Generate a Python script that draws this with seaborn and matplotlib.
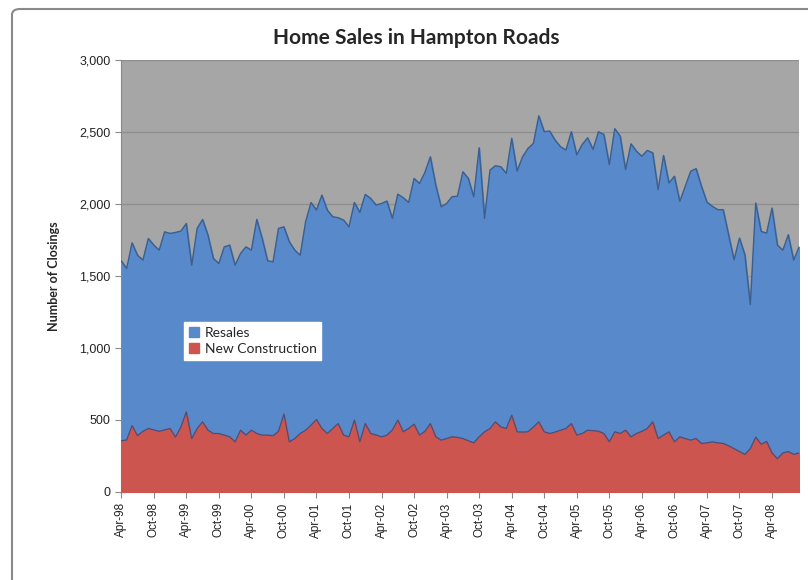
import numpy as np
import pandas as pd
import seaborn as sns
import matplotlib.pyplot as plt
from matplotlib.patches import FancyBboxPatch
from matplotlib.ticker import FuncFormatter

# Monthly closings, Apr-98 .. Sep-08
total_closings = [
    1604, 1551, 1729, 1643, 1609, 1759, 1713, 1678, 1805, 1794, 1801, 1810,
    1863, 1574, 1829, 1891, 1782, 1620, 1586, 1701, 1713, 1574, 1655, 1701,
    1678, 1891, 1759, 1604, 1597, 1829, 1840, 1736, 1678, 1643, 1875, 2009,
    1956, 2060, 1956, 1910, 1903, 1887, 1840, 2009, 1940, 2065, 2037, 1991,
    2002, 2019, 1898, 2067, 2042, 2009, 2176, 2141, 2218, 2326, 2130, 1979,
    2002, 2049, 2053, 2222, 2176, 2049, 2389, 1898, 2234, 2264, 2257, 2211,
    2454, 2227, 2326, 2384, 2419, 2611, 2500, 2505, 2442, 2396, 2373, 2500,
    2340, 2412, 2458, 2377, 2500, 2481, 2272, 2521, 2470, 2237, 2416, 2365,
    2330, 2370, 2354, 2098, 2335, 2144, 2191, 2017, 2121, 2226, 2244, 2121,
    2012, 1982, 1959, 1959, 1785, 1611, 1762, 1646, 1300, 2005, 1808, 1796,
    1970, 1713, 1678, 1785, 1609, 1701,
]
new_construction = [
    355, 360, 460, 390, 420, 440, 430, 420, 430, 440, 380, 450,
    555, 370, 440, 486, 428, 405, 405, 394, 382, 347, 428, 394,
    428, 405, 394, 394, 390, 420, 540, 347, 370, 405, 428, 463,
    502, 440, 405, 440, 474, 394, 382, 498, 347, 474, 405, 395,
    382, 394, 430, 498, 417, 440, 470, 394, 420, 474, 382, 359,
    370, 382, 378, 370, 355, 340, 382, 417, 440, 486, 451, 440,
    532, 417, 415, 417, 450, 486, 417, 405, 415, 428, 440, 474,
    394, 405, 428, 425, 421, 405, 347, 417, 405, 428, 382, 405,
    420, 440, 486, 370, 394, 417, 347, 382, 370, 359, 370, 336,
    340, 347, 340, 336, 320, 300, 280, 260, 300, 380, 330, 350,
    270, 230, 270, 280, 260, 270,
]
years = ['98', '99', '00', '01', '02', '03', '04', '05', '06', '07', '08']
tick_labels = []
for y in years:
    tick_labels.append(f'Apr-{y}')
    if y != '08':
        tick_labels.append(f'Oct-{y}')

df = pd.DataFrame({
    'month': np.arange(len(total_closings)),
    'New Construction': new_construction,
    'Total': total_closings,
})
df['Resales'] = df['Total'] - df['New Construction']

sns.set_style('white')
plt.rcParams['font.family'] = ['Liberation Sans', 'DejaVu Sans']

blue = '#5889CB'
red = '#CD5550'

fig = plt.figure(figsize=(8.08, 5.8), dpi=100)
ax = fig.add_axes([0.150, 0.152, 0.839, 0.745])
ax.set_facecolor('#A6A6A6')

ax.fill_between(df['month'], 0, df['Total'], color=blue, label='Resales', zorder=2)
ax.fill_between(df['month'], 0, df['New Construction'], color=red,
                label='New Construction', zorder=3)
sns.lineplot(data=df, x='month', y='Total', ax=ax, color='#3B5F8E', lw=1.0, zorder=4)
sns.lineplot(data=df, x='month', y='New Construction', ax=ax, color='#4A4F78',
             lw=0.9, zorder=4)

ax.set_xlim(0, len(total_closings) - 1)
ax.set_ylim(0, 3000)
ax.set_yticks(range(0, 3001, 500))
ax.yaxis.set_major_formatter(FuncFormatter(lambda v, p: f'{int(v):,}'))
ax.set_xticks(range(0, 121, 6))
ax.set_xticklabels(tick_labels, rotation=90, fontsize=8.5, color='#222222')
ax.tick_params(axis='y', labelsize=9, colors='#222222', length=4,
               color='#888888', direction='out', left=True)
ax.tick_params(axis='x', length=4, color='#888888', direction='out', bottom=True)
ax.grid(axis='y', color='#8E8E8E', lw=1.0, zorder=1)
ax.set_axisbelow(True)
for s in ['top', 'right']:
    ax.spines[s].set_visible(False)
for s in ['left', 'bottom']:
    ax.spines[s].set_color('#888888')
ax.set_xlabel('')
ax.set_ylabel('Number of Closings', fontsize=9, fontweight='bold',
              family=['Lato', 'DejaVu Sans'], labelpad=14)

leg = ax.legend(loc='lower left', bbox_to_anchor=(0.083, 0.29), frameon=True,
                fancybox=False, fontsize=9.5, handlelength=0.7, handleheight=0.7,
                handletextpad=0.4, borderpad=0.35, labelspacing=0.3,
                prop={'family': ['Lato', 'DejaVu Sans'], 'size': 10})
leg.get_frame().set_facecolor('white')
leg.get_frame().set_edgecolor('white')
leg.get_frame().set_alpha(1)

fig.text(416 / 808, 1 - 38 / 580, 'Home Sales in Hampton Roads', ha='center',
         va='center', fontsize=15, fontweight='bold', family=['Lato', 'DejaVu Sans'])

border = FancyBboxPatch((12 / 808, -0.2), 1.2, 0.2 + 1 - 9 / 580,
                        boxstyle='round,pad=0,rounding_size=0.01',
                        transform=fig.transFigure, fill=False,
                        edgecolor='#8A8A8A', lw=1.5)
fig.patches.append(border)

fig.savefig('out.png', dpi=100)
